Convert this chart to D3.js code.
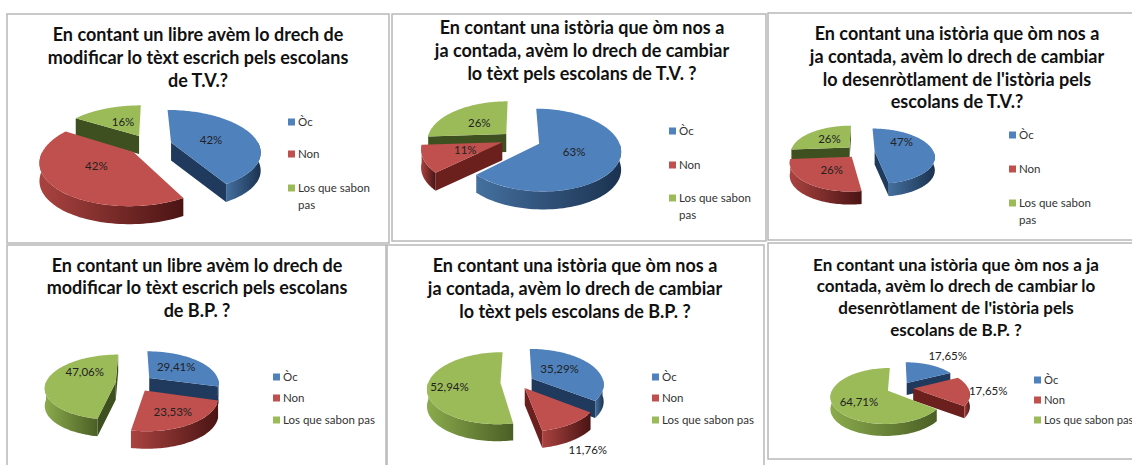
<!DOCTYPE html>
<html><head><meta charset="utf-8">
<script src="https://cdn.jsdelivr.net/npm/d3@7"></script>
<style>
html,body{margin:0;padding:0;background:#fff}
svg{display:block}
text{font-family:Lato,"Open Sans",sans-serif}
</style></head><body><svg id="c" width="1132" height="465"></svg>
<script>
const categories = ["Òc", "Non", "Los que sabon pas"];
const legendWrapped = [["Òc"], ["Non"], ["Los que sabon", "pas"]];
const legendSingle = [["Òc"], ["Non"], ["Los que sabon pas"]];
const colors = ["#4f81bd", "#c0504d", "#9bbb59"];
const cutColors = ["#1f3a5c", "#6b201e", "#3f5020"];
const wallFrom = ["#44709f", "#aa4340", "#8aab4c"];
const wallTo = ["#1b3250", "#4a1413", "#4b5f25"];

const valuesTV1 = [42, 42, 16];
const valuesTV2 = [63, 11, 26];
const valuesTV3 = [47, 26, 26];
const valuesBP1 = [29.41, 23.53, 47.06];
const valuesBP2 = [35.29, 11.76, 52.94];
const valuesBP3 = [17.65, 17.65, 64.71];

const titleTV1 = ["En contant un libre avèm lo drech de", "modificar lo tèxt escrich pels escolans", "de T.V.?"];
const titleTV2 = ["En contant una istòria que òm nos a", "ja contada, avèm lo drech de cambiar", "lo tèxt pels escolans de T.V. ?"];
const titleTV3 = ["En contant una istòria que òm nos a", "ja contada, avèm lo drech de cambiar", "lo desenròtlament de l'istòria pels", "escolans de T.V.?"];
const titleBP1 = ["En contant un libre avèm lo drech de", "modificar lo tèxt escrich pels escolans", "de B.P. ?"];
const titleBP2 = ["En contant una istòria que òm nos a", "ja contada, avèm lo drech de cambiar", "lo tèxt pels escolans de B.P. ?"];
const titleBP3 = ["En contant una istòria que òm nos a ja", "contada, avèm lo drech de cambiar lo", "desenròtlament de l'istòria pels", "escolans de B.P. ?"];

// layout only
const panels = [
 {values:valuesTV1,title:titleTV1,digits:0,box:[7,14,382,229],tx:198,ty:[41,64,87],fs:18,lfs:11.5,
  pie:{cx:150,cy:145,rx:88,ry:40,p:.2,d:18,e:[.25,.25,.27]},lx:288,ly:[122,154,188],leg:legendWrapped,lab:[[40,-3],[-37,14],[-16,-14]]},
 {values:valuesTV2,title:titleTV2,digits:0,box:[392,14,374,227],tx:582,ty:[34,57,80],fs:18,lfs:11.5,
  pie:{cx:517,cy:139,rx:79,ry:39,p:.15,d:18,e:[.3,.2,.19]},lx:669,ly:[131,165,198],leg:legendWrapped,lab:[[35,8],[-37,8],[-27,-11]]},
 {values:valuesTV3,title:titleTV3,digits:0,box:[768,13,380,227],tx:957,ty:[40,63,86,108],fs:18,lfs:11.5,
  pie:{cx:860,cy:152,rx:59,ry:27,p:.17,d:13,e:[.25,.22,.25]},lx:1009,ly:[135,169,203],leg:legendWrapped,lab:[[27,-9],[-20,13],[-20,-9]]},
 {values:valuesBP1,title:titleBP1,digits:2,box:[7,245,379,240],tx:197,ty:[272,294,317],fs:18,lfs:11.5,
  pie:{cx:134.5,cy:383,rx:70,ry:32,p:.15,d:17.5,e:[.27,.27,.27]},lx:273,ly:[377,398,420],leg:legendSingle,lab:[[27,-11],[28,21],[-31,-10]]},
 {values:valuesBP2,title:titleBP2,digits:2,box:[387,245,377,240],tx:575,ty:[272,295,318],fs:18,lfs:11.5,
  pie:{cx:517,cy:382,rx:72,ry:35,p:.15,d:17,e:[.23,.2,.23]},lx:652,ly:[377,398,420],leg:legendSingle,lab:[[28,-9],[63,62],[-51,4]]},
 {values:valuesBP3,title:titleBP3,digits:2,box:[768,243,380,216],tx:956,ty:[271,292,314,336],fs:17,lfs:11.2,
  pie:{cx:900,cy:388,rx:55,ry:26,p:.18,d:12,e:[.24,.24,.24]},lx:1034,ly:[380,400,420],leg:legendSingle,lab:[[41,-27],[75,2],[-29,11]]}
];

const svg = d3.select("#c");
svg.append("rect").attr("width",1132).attr("height",465).attr("fill","#fff");
const defs = svg.append("defs");
categories.forEach((c,i)=>{
  const g = defs.append("linearGradient").attr("id","wall"+i).attr("x1",0).attr("x2",1).attr("y1",0).attr("y2",0);
  g.append("stop").attr("offset",0).attr("stop-color",wallFrom[i]);
  g.append("stop").attr("offset",1).attr("stop-color",wallTo[i]);
});
const line = d3.line().curve(d3.curveLinear);
const pieGen = d3.pie().sort(null).startAngle(0).endAngle(2*Math.PI);

panels.forEach(P=>{
  const g = svg.append("g");
  g.append("rect").attr("x",P.box[0]).attr("y",P.box[1]).attr("width",P.box[2]).attr("height",P.box[3])
    .attr("fill","#fff").attr("stroke","#b8b8b8").attr("stroke-width",1.5);
  const q = P.pie;
  const project = (a,r,e,m,z) => {
    const u = r*Math.sin(a)+e*Math.sin(m), v = -r*Math.cos(a)-e*Math.cos(m);
    const s = 1/(1-q.p*v);
    return [q.cx+q.rx*u*s, q.cy+q.ry*v*s+(z?q.d:0)];
  };
  const arcs = pieGen(P.values).map((a,i)=>{
    const m=(a.startAngle+a.endAngle)/2;
    return {i,a0:a.startAngle,a1:a.endAngle,m,e:q.e[i],v:a.value};
  });
  const order = arcs.slice().sort((x,y)=>(-x.e*Math.cos(x.m)-0.3*Math.cos(x.m))-(-y.e*Math.cos(y.m)-0.3*Math.cos(y.m)));
  order.forEach(s=>{
    const sg = g.append("g");
    const pt=(a,r,z)=>project(a,r,s.e,s.m,z);
    const cutWall=a=>[pt(a,0,false),pt(a,1,false),pt(a,1,true),pt(a,0,true)];
    if(Math.sin(s.a0)<0) sg.append("path").attr("d",line(cutWall(s.a0))+"Z").attr("fill",cutColors[s.i]);
    if(Math.sin(s.a1)>0) sg.append("path").attr("d",line(cutWall(s.a1))+"Z").attr("fill",cutColors[s.i]);
    const lo=Math.max(s.a0,Math.PI/2), hi=Math.min(s.a1,3*Math.PI/2);
    if(hi>lo){
      const as=d3.range(0,61).map(k=>lo+(hi-lo)*k/60);
      const poly=as.map(a=>pt(a,1,false)).concat(as.slice().reverse().map(a=>pt(a,1,true)));
      sg.append("path").attr("d",line(poly)+"Z").attr("fill",`url(#wall${s.i})`);
    }
    const as=d3.range(0,121).map(k=>s.a0+(s.a1-s.a0)*k/120);
    const top=[pt(0,0,false)].concat(as.map(a=>pt(a,1,false)));
    sg.append("path").attr("d",line(top)+"Z").attr("fill",colors[s.i]);
  });
  const fmt = d3.format(P.digits?".2f":".0f");
  arcs.forEach(s=>{
    const ap=project(s.m,0,s.e,s.m,false);
    g.append("text").attr("x",ap[0]+P.lab[s.i][0]).attr("y",ap[1]+P.lab[s.i][1]+4)
      .attr("text-anchor","middle").attr("font-size",11.5).attr("fill","#222")
      .text(fmt(s.v).replace(".",",")+"%");
  });
  P.title.forEach((t,i)=>{
    g.append("text").attr("x",P.tx).attr("y",P.ty[i]).attr("text-anchor","middle")
      .attr("font-size",P.fs).attr("font-weight",700).attr("fill","#111").text(t);
  });
  categories.forEach((c,i)=>{
    g.append("rect").attr("x",P.lx).attr("y",P.ly[i]-3.5).attr("width",7).attr("height",7).attr("fill",colors[i]);
    P.leg[i].forEach((l,k)=>{
      g.append("text").attr("x",P.lx+10).attr("y",P.ly[i]+4+k*17).attr("font-size",P.lfs).attr("fill","#333").text(l);
    });
  });
});
</script></body></html>
